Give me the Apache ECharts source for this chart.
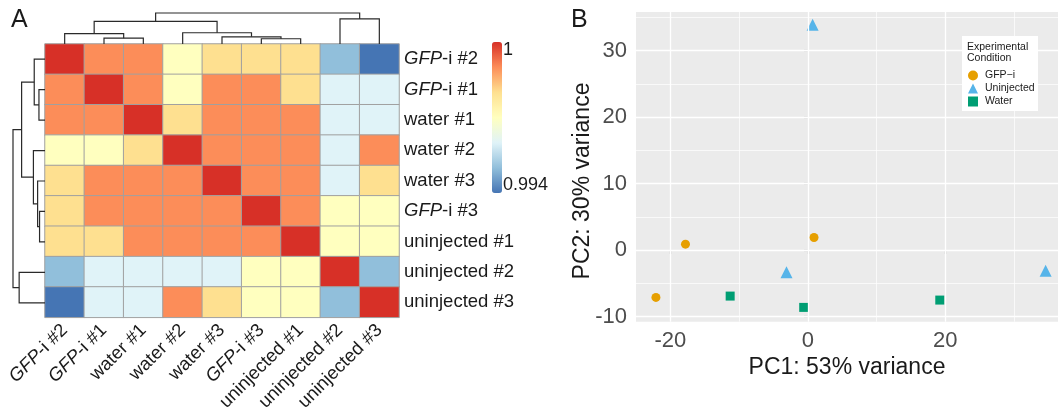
<!DOCTYPE html>
<html>
<head>
<meta charset="utf-8">
<script src="https://cdn.jsdelivr.net/npm/echarts@6/dist/echarts.min.js"></script>
<style>
html,body{margin:0;padding:0;background:#fff;}
#chart{width:1058px;height:414px;}
</style>
</head>
<body>
<div id="chart"></div>
<script>
// ---------- Panel A: sample-to-sample correlation heatmap ----------
const samples = ['GFP-i #2','GFP-i #1','water #1','water #2','water #3','GFP-i #3','uninjected #1','uninjected #2','uninjected #3'];
const corr = [
  [1.000,0.999,0.999,0.997,0.998,0.998,0.998,0.995,0.994],
  [0.999,1.000,0.999,0.997,0.999,0.999,0.998,0.996,0.996],
  [0.999,0.999,1.000,0.998,0.999,0.999,0.999,0.996,0.996],
  [0.997,0.997,0.998,1.000,0.999,0.999,0.999,0.996,0.999],
  [0.998,0.999,0.999,0.999,1.000,0.999,0.999,0.996,0.998],
  [0.998,0.999,0.999,0.999,0.999,1.000,0.999,0.997,0.997],
  [0.998,0.998,0.999,0.999,0.999,0.999,1.000,0.997,0.997],
  [0.995,0.996,0.996,0.996,0.996,0.997,0.997,1.000,0.995],
  [0.994,0.996,0.996,0.999,0.998,0.997,0.997,0.995,1.000]
];
const colorMin = 0.994, colorMax = 1;
const colorTickLabels = ['1', '0.994'];
// hierarchical clustering (hclust-style merge matrix, leaves in display order)
const treeMerge = [[-2,-3],[-1,1],[-6,-7],[-5,3],[-4,4],[2,5],[-8,-9],[6,7]];
const treeHeight = [5.9, 10.5, 5.3, 7.2, 11.3, 22.8, 25.2, 31.2];

// ---------- Panel B: PCA ----------
const pcaGFPi = [[-22.1,-7.1],[-17.8,0.9],[0.9,1.9]];
const pcaUninjected = [[0.7,33.9],[-3.1,-3.3],[34.6,-3.1]];
const pcaWater = [[-11.3,-6.9],[-0.6,-8.6],[19.2,-7.5]];
const pcaGroups = ['GFP\u2212i','Uninjected','Water'];
const xTicks = [-20, 0, 20];
const yTicks = [-10, 0, 10, 20, 30];
const xMinor = [-10, 10, 30];
const yMinor = [-5, 5, 15, 25, 35];

const FONT = '"Liberation Sans", Arial, Helvetica, sans-serif';
const palette = ['#4575B4','#91BFDB','#E0F3F8','#FFFFBF','#FEE090','#FC8D59','#D73027'];

// heatmap data
const heatData = [];
corr.forEach((row, r) => row.forEach((v, c) => heatData.push([c, r, v])));

// dendrogram segments
function buildTree(merge, heights) {
  const pos = [], segs = [];
  const get = k => k < 0 ? { p: -k - 0.5, h: 0 } : { p: pos[k - 1], h: heights[k - 1] };
  merge.forEach((m, i) => {
    const a = get(m[0]), b = get(m[1]);
    pos[i] = (a.p + b.p) / 2;
    segs.push([a.p, a.h, b.p, b.h, heights[i]]);
  });
  return segs;
}
const treeSegs = buildTree(treeMerge, treeHeight);
const treeTop = Math.max(...treeHeight);

function labelFmt(v) {
  return v.indexOf('GFP') === 0 ? '{i|GFP}{n|' + v.slice(3) + '}' : '{n|' + v + '}';
}
const labelRich = {
  i: { fontStyle: 'italic', fontSize: 18.5, fontFamily: FONT, color: '#1a1a1a' },
  n: { fontSize: 18.5, fontFamily: FONT, color: '#1a1a1a' }
};

const chart = echarts.init(document.getElementById('chart'), null, { renderer: 'canvas' });

const gridLineSeries = {
  type: 'scatter', xAxisIndex: 3, yAxisIndex: 3, data: [], z: 1, silent: true,
  markLine: {
    silent: true, symbol: ['none', 'none'], animation: false,
    label: { show: false }, emphasis: { disabled: true },
    data: [
      ...xMinor.map(v => ({ xAxis: v, lineStyle: { color: '#fff', width: 0.7, type: 'solid', opacity: 1 } })),
      ...yMinor.map(v => ({ yAxis: v, lineStyle: { color: '#fff', width: 0.7, type: 'solid', opacity: 1 } })),
      ...xTicks.map(v => ({ xAxis: v, lineStyle: { color: '#fff', width: 1.3, type: 'solid', opacity: 1 } })),
      ...yTicks.map(v => ({ yAxis: v, lineStyle: { color: '#fff', width: 1.3, type: 'solid', opacity: 1 } }))
    ]
  }
};

const option = {
  animation: false,
  backgroundColor: '#fff',
  textStyle: { fontFamily: FONT },
  grid: [
    { left: 45, top: 44, width: 354, height: 274 },
    { left: 45, top: 13, width: 354, height: 31 },
    { left: 13, top: 44, width: 32, height: 274 },
    { left: 636, top: 12, width: 422, height: 309.7, show: true, backgroundColor: '#EBEBEB', borderWidth: 0 }
  ],
  xAxis: [
    { type: 'category', gridIndex: 0, data: samples, position: 'bottom',
      axisLine: { show: false }, axisTick: { show: false }, splitLine: { show: false },
      axisLabel: { interval: 0, rotate: 45, margin: 10, formatter: labelFmt, rich: labelRich } },
    { type: 'value', gridIndex: 1, min: 0, max: 9, show: false },
    { type: 'value', gridIndex: 2, min: 0, max: treeTop, inverse: true, show: false },
    { type: 'value', gridIndex: 3, min: -25, max: 36.4,
      axisLine: { show: false }, splitLine: { show: false },
      axisTick: { show: true, length: 4, customValues: xTicks, lineStyle: { color: '#333', width: 1.1 } },
      axisLabel: { customValues: xTicks, fontSize: 22, color: '#4D4D4D', margin: 8, fontFamily: FONT },
      name: 'PC1: 53% variance', nameLocation: 'middle', nameGap: 32,
      nameTextStyle: { fontSize: 23, color: '#1a1a1a', fontFamily: FONT } }
  ],
  yAxis: [
    { type: 'category', gridIndex: 0, data: samples, inverse: true, position: 'right',
      axisLine: { show: false }, axisTick: { show: false }, splitLine: { show: false },
      axisLabel: { interval: 0, margin: 5, formatter: labelFmt, rich: labelRich } },
    { type: 'value', gridIndex: 1, min: 0, max: treeTop, show: false },
    { type: 'value', gridIndex: 2, min: 0, max: 9, inverse: true, show: false },
    { type: 'value', gridIndex: 3, min: -10.75, max: 35.8,
      axisLine: { show: false }, splitLine: { show: false },
      axisTick: { show: true, length: 4, customValues: yTicks, lineStyle: { color: '#333', width: 1.1 } },
      axisLabel: { customValues: yTicks, fontSize: 22, color: '#4D4D4D', margin: 9, fontFamily: FONT } }
  ],
  visualMap: {
    type: 'continuous', seriesIndex: 0, min: colorMin, max: colorMax,
    calculable: false, realtime: false, hoverLink: false,
    left: 492, top: 42, itemWidth: 10, itemHeight: 151, padding: 0,
    text: null, showLabel: false,
    inRange: { color: palette }
  },
  legend: {
    data: pcaGroups.map((n, i) => ({ name: n, icon: ['circle', 'triangle', 'rect'][i] })),
    orient: 'vertical', left: 968, top: 70, padding: 0,
    itemWidth: 10, itemHeight: 10, itemGap: 2, z: 6,
    textStyle: { fontSize: 10.5, color: '#1a1a1a', fontFamily: FONT, padding: [0, 0, 0, 2] },
    selectedMode: false
  },
  graphic: [
    { type: 'text', left: 11, top: 8, style: { text: 'A', fontSize: 25, fill: '#1a1a1a', font: '25px ' + FONT } },
    { type: 'text', left: 571, top: 8, style: { text: 'B', fontSize: 25, fill: '#1a1a1a', font: '25px ' + FONT } },
    { type: 'text', x: 503, y: 41, style: { text: colorTickLabels[0], font: '18px ' + FONT, fill: '#1a1a1a', textVerticalAlign: 'top' } },
    { type: 'text', x: 503, y: 194, style: { text: colorTickLabels[1], font: '18px ' + FONT, fill: '#1a1a1a', textVerticalAlign: 'bottom' } },
    { type: 'text', x: 583, y: 181, rotation: Math.PI / 2,
      style: { text: 'PC2: 30% variance', font: '23px ' + FONT, fill: '#1a1a1a', textAlign: 'center', textVerticalAlign: 'middle' } },
    { type: 'rect', z: 5, shape: { x: 962, y: 36, width: 76, height: 75 }, style: { fill: '#fff' } },
    { type: 'text', z: 6, x: 967, y: 42, style: { text: 'Experimental\nCondition', font: '10.5px ' + FONT, lineHeight: 11, fill: '#1a1a1a' } }
  ],
  series: [
    { type: 'heatmap', xAxisIndex: 0, yAxisIndex: 0, data: heatData,
      itemStyle: { borderColor: '#A0A0A0', borderWidth: 1 }, emphasis: { disabled: true } },
    { type: 'custom', xAxisIndex: 1, yAxisIndex: 1, data: treeSegs, silent: true,
      renderItem: (params, api) => {
        const pts = [api.coord([api.value(0), api.value(1)]), api.coord([api.value(0), api.value(4)]),
                     api.coord([api.value(2), api.value(4)]), api.coord([api.value(2), api.value(3)])];
        return { type: 'polyline', shape: { points: pts }, style: { stroke: '#2a2a2a', lineWidth: 1.2, fill: null } };
      } },
    { type: 'custom', xAxisIndex: 2, yAxisIndex: 2, data: treeSegs, silent: true,
      renderItem: (params, api) => {
        const pts = [api.coord([api.value(1), api.value(0)]), api.coord([api.value(4), api.value(0)]),
                     api.coord([api.value(4), api.value(2)]), api.coord([api.value(3), api.value(2)])];
        return { type: 'polyline', shape: { points: pts }, style: { stroke: '#2a2a2a', lineWidth: 1.2, fill: null } };
      } },
    gridLineSeries,
    { name: pcaGroups[0], type: 'scatter', xAxisIndex: 3, yAxisIndex: 3, data: pcaGFPi, z: 3,
      symbol: 'circle', symbolSize: 9, itemStyle: { color: '#E69F00', opacity: 1 } },
    { name: pcaGroups[1], type: 'scatter', xAxisIndex: 3, yAxisIndex: 3, data: pcaUninjected, z: 3,
      symbol: 'triangle', symbolSize: 12, itemStyle: { color: '#56B4E9', opacity: 1 } },
    { name: pcaGroups[2], type: 'scatter', xAxisIndex: 3, yAxisIndex: 3, data: pcaWater, z: 3,
      symbol: 'rect', symbolSize: 9, itemStyle: { color: '#009E73', opacity: 1 } }
  ]
};
chart.setOption(option);
</script>
</body>
</html>
